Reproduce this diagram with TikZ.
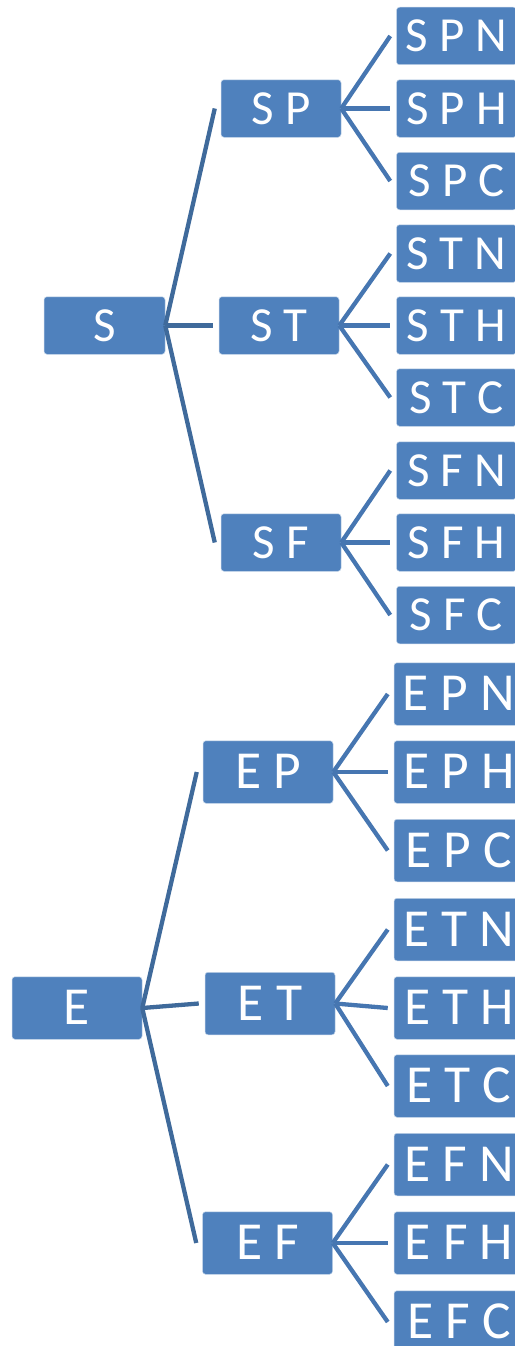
\documentclass[tikz,border=0pt]{standalone}
\usepackage{fontspec}
\newfontfamily\carlito{Carlito}
\definecolor{boxblue}{HTML}{4F81BD}
\definecolor{trunkline}{HTML}{3F6A9B}
\definecolor{twigline}{HTML}{4676B1}
\tikzset{
  tbox/.style={rectangle, rounded corners=3pt, fill=boxblue,
    draw=white!65!boxblue, line width=0.5pt, text=white, inner sep=0pt},
  topbox/.style={tbox, minimum width=120pt, minimum height=57.5pt,
    font=\carlito\fontsize{49}{49}\selectfont, text height=31pt, text depth=0pt},
  botbox/.style={tbox, minimum width=130pt, minimum height=62.5pt,
    font=\carlito\fontsize{53.5}{53.5}\selectfont, text height=33.8pt, text depth=0pt},
  trunk/.style={draw=trunkline, line width=4.3pt},
  twig/.style={draw=twigline, line width=4.3pt},
}
\begin{document}
\begin{tikzpicture}[x=1pt, y=-1pt]
\useasboundingbox (0,0) rectangle (514,1346);

% ---- upper tree ----
\node[topbox, minimum width=121pt] (S) at (104.5,325.5) {S};
\node[topbox] (SP) at (281,108.5) {S P};
\node[topbox] (ST) at (279,325.5) {S T};
\node[topbox] (SF) at (281,542.5) {S F};

\node[topbox] (SPN) at (456.5,36)    {S P N};
\node[topbox] (SPH) at (456.5,108.5) {S P H};
\node[topbox] (SPC) at (456.5,181)   {S P C};
\node[topbox] (STN) at (456.5,253.5) {S T N};
\node[topbox] (STH) at (456.5,325.5) {S T H};
\node[topbox] (STC) at (456.5,397.5) {S T C};
\node[topbox] (SFN) at (456.5,470.5) {S F N};
\node[topbox] (SFH) at (456.5,542.5) {S F H};
\node[topbox] (SFC) at (456.5,615)   {S F C};

\foreach \c in {SP,ST,SF}
  \draw[trunk] (S.east) -- ([xshift=-6pt]\c.west);
\foreach \p in {SP,ST,SF}
  \foreach \k in {N,H,C}
    \draw[twig] (\p.east) -- ([xshift=-6pt]\p\k.west);

% ---- lower tree ----
\node[botbox] (E)  at (77,1008)    {E};
\node[botbox] (EP) at (268,772)    {E P};
\node[botbox] (ET) at (270,1003.5) {E T};
\node[botbox] (EF) at (267.5,1243) {E F};

\node[botbox] (EPN) at (459,694)    {E P N};
\node[botbox] (EPH) at (459,772)    {E P H};
\node[botbox] (EPC) at (459,850.5)  {E P C};
\node[botbox] (ETN) at (459,929.5)  {E T N};
\node[botbox] (ETH) at (459,1008)   {E T H};
\node[botbox] (ETC) at (459,1086)   {E T C};
\node[botbox] (EFN) at (459,1164.5) {E F N};
\node[botbox] (EFH) at (459,1243)   {E F H};
\node[botbox] (EFC) at (459,1322)   {E F C};

\foreach \c in {EP,ET,EF}
  \draw[trunk] (E.east) -- ([xshift=-6pt]\c.west);
\foreach \p in {EP,ET,EF}
  \foreach \k in {N,H,C}
    \draw[twig] (\p.east) -- ([xshift=-6pt]\p\k.west);
\end{tikzpicture}
\end{document}
